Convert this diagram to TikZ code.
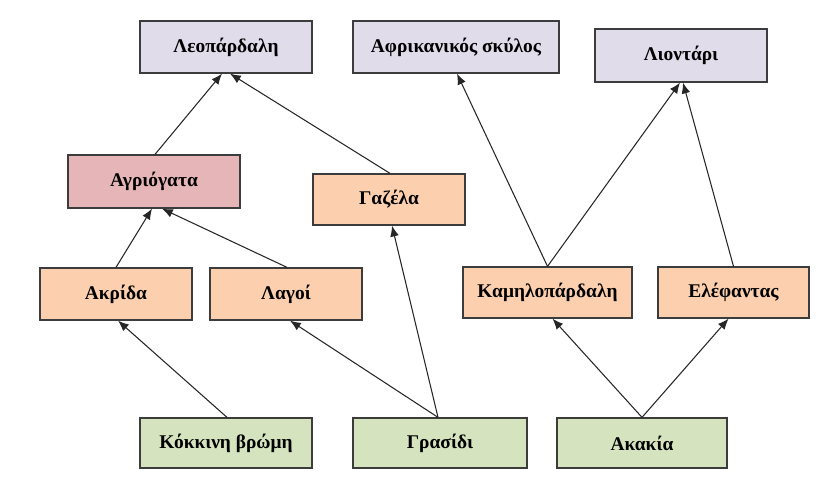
\documentclass[tikz,border=0pt]{standalone}
\usepackage{fontspec}
\setmainfont{Liberation Serif}
\usetikzlibrary{calc,arrows.meta}
\definecolor{lav}{HTML}{E1DCEA}
\definecolor{pinkc}{HTML}{E6B5B7}
\definecolor{peach}{HTML}{FCD0AE}
\definecolor{greenc}{HTML}{D5E4BF}
\definecolor{edgec}{HTML}{3C3C3C}
\tikzset{
  box/.style={draw=edgec, line width=0.9pt, font=\fontsize{13.8}{16}\selectfont\bfseries, inner sep=0pt},
  arr/.style={-{Latex[length=2.7mm,width=2.2mm]}, line width=0.75pt, draw=black!85},
}
\begin{document}
\begin{tikzpicture}[x=0.025cm,y=-0.025cm]
\useasboundingbox (0,0) rectangle (820,493);
% top row
\node[box, fill=lav, minimum width=4.3cm, minimum height=1.3cm] (leo) at (226,47) {Λεοπάρδαλη};
\node[box, fill=lav, minimum width=5.15cm, minimum height=1.3cm] (afr) at (456,47) {Αφρικανικός σκύλος};
\node[box, fill=lav, minimum width=4.3cm, minimum height=1.325cm] (lio) at (681,55.5) {Λιοντάρι};
% second row
\node[box, fill=pinkc, minimum width=4.3cm, minimum height=1.325cm] (agr) at (154,181.5) {Αγριόγατα};
\node[box, fill=peach, minimum width=3.8cm, minimum height=1.275cm] (gaz) at (389,199.5) {Γαζέλα};
% third row
\node[box, fill=peach, minimum width=3.8cm, minimum height=1.3cm] (akr) at (116,294) {Ακρίδα};
\node[box, fill=peach, minimum width=3.8cm, minimum height=1.3cm] (lag) at (286,294) {Λαγοί};
\node[box, fill=peach, minimum width=4.225cm, minimum height=1.275cm] (kam) at (547.5,292.5) {Καμηλοπάρδαλη};
\node[box, fill=peach, minimum width=3.775cm, minimum height=1.275cm] (ele) at (733.5,292.5) {Ελέφαντας};
% bottom row
\node[box, fill=greenc, minimum width=4.3cm, minimum height=1.25cm] (kok) at (226,443) {Κόκκινη βρώμη};
\node[box, fill=greenc, minimum width=4.35cm, minimum height=1.25cm] (gra) at (440,443) {Γρασίδι};
\node[box, fill=greenc, minimum width=4.25cm, minimum height=1.25cm] (aka) at (642,443) {Ακακία};
% edges
\draw[arr] ($(agr.north)+(1,0)$) -- ($(leo.south)+(-4,0)$);
\draw[arr] ($(gaz.north)+(1,0)$) -- ($(leo.south)+(4,0)$);
\draw[arr] (akr.north) -- ($(agr.south)+(-2,0)$);
\draw[arr] ($(lag.north)+(1,0)$) -- ($(agr.south)+(8,0)$);
\draw[arr] ($(kok.north)+(1,0)$) -- ($(akr.south)+(2,0)$);
\draw[arr] ($(gra.north)+(-2,0)$) -- ($(lag.south)+(4,0)$);
\draw[arr] ($(gra.north)+(-2,0)$) -- ($(gaz.south)+(3,0)$);
\draw[arr] (kam.north) -- ($(afr.south)+(1,0)$);
\draw[arr] (kam.north) -- ($(lio.south)+(-1,0)$);
\draw[arr] (ele.north) -- ($(lio.south)+(2,0)$);
\draw[arr] (aka.north) -- ($(kam.south)+(5,0)$);
\draw[arr] (aka.north) -- ($(ele.south)+(-5,0)$);
\end{tikzpicture}
\end{document}
